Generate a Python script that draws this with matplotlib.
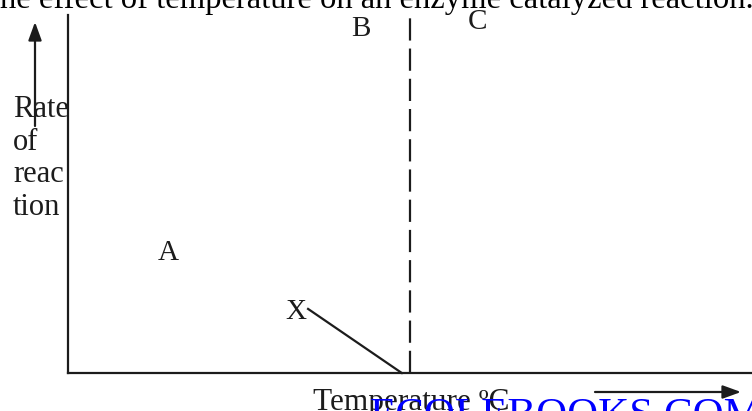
import matplotlib
matplotlib.use("Agg")
import matplotlib.pyplot as plt

plt.rcParams['font.family'] = ['Liberation Serif', 'DejaVu Serif']

W, H = 752, 411

# diagram values: temperature on x (0-100), rate of reaction on y (0-100)
optimum_temp = 50.0
x_line_temp = [35.1, 48.8]
x_line_rate = [17.9, 0.0]
region_labels = ['A', 'B', 'C', 'X']
region_temp = [14.6, 42.8, 59.9, 33.3]
region_rate = [33.5, 96.1, 98.0, 17.0]

title = "he effect of temperature on an enzyme catalyzed reaction."
y_label_lines = ['Rate', 'of', 'reac', 'tion']
x_label = 'Temperature \u00baC'
watermark = 'ECOLEBOOKS.COM'

ink = '#1c1c1c'


def fx(x):
    return x / W


def fy(y):
    # pixel row measured from the top
    return 1 - y / H


fig = plt.figure(figsize=(W / 100, H / 100), dpi=100)
ax = fig.add_axes([fx(68), 38 / H, fx(W - 68), 358 / H])
ax.set_xlim(0, 100)
ax.set_ylim(0, 100)
for side in ['top', 'right']:
    ax.spines[side].set_visible(False)
for side in ['left', 'bottom']:
    ax.spines[side].set_linewidth(1.6)
    ax.spines[side].set_color(ink)
ax.set_xticks([])
ax.set_yticks([])
ax.patch.set_alpha(0)

# optimum temperature
ax.plot([optimum_temp, optimum_temp], [0, 100], color=ink, lw=1.6,
        dashes=(10, 3.6), clip_on=False)
# line X
ax.plot(x_line_temp, x_line_rate, color=ink, lw=1.6, clip_on=False)

for lab, t, r in zip(region_labels, region_temp, region_rate):
    ax.text(t, r, lab, fontsize=21, color=ink, ha='center', va='center',
            clip_on=False)

fig.text(0, fy(8), title, fontsize=23.5, color='black', ha='left',
         va='baseline')

for i, line in enumerate(y_label_lines):
    fig.text(fx(13), fy(117 + 32.5 * i), line, fontsize=22, color=ink,
             ha='left', va='baseline')

fig.text(fx(313), fy(410), x_label, fontsize=22.5, color=ink, ha='left',
         va='baseline')

fig.text(fx(370), fy(427), watermark, fontsize=31, color='#0000ff',
         ha='left', va='baseline')

arrow = dict(arrowstyle='-|>,head_length=0.55,head_width=0.2', color=ink,
             lw=1.6, shrinkA=0, shrinkB=0, mutation_scale=20)
ax.annotate('', xy=(fx(35), fy(22)), xytext=(fx(35), fy(126)),
            xycoords='figure fraction', textcoords='figure fraction',
            arrowprops=arrow)
ax.annotate('', xy=(fx(741), fy(392)), xytext=(fx(595), fy(392)),
            xycoords='figure fraction', textcoords='figure fraction',
            arrowprops=arrow)

fig.savefig('out.png', dpi=100)
